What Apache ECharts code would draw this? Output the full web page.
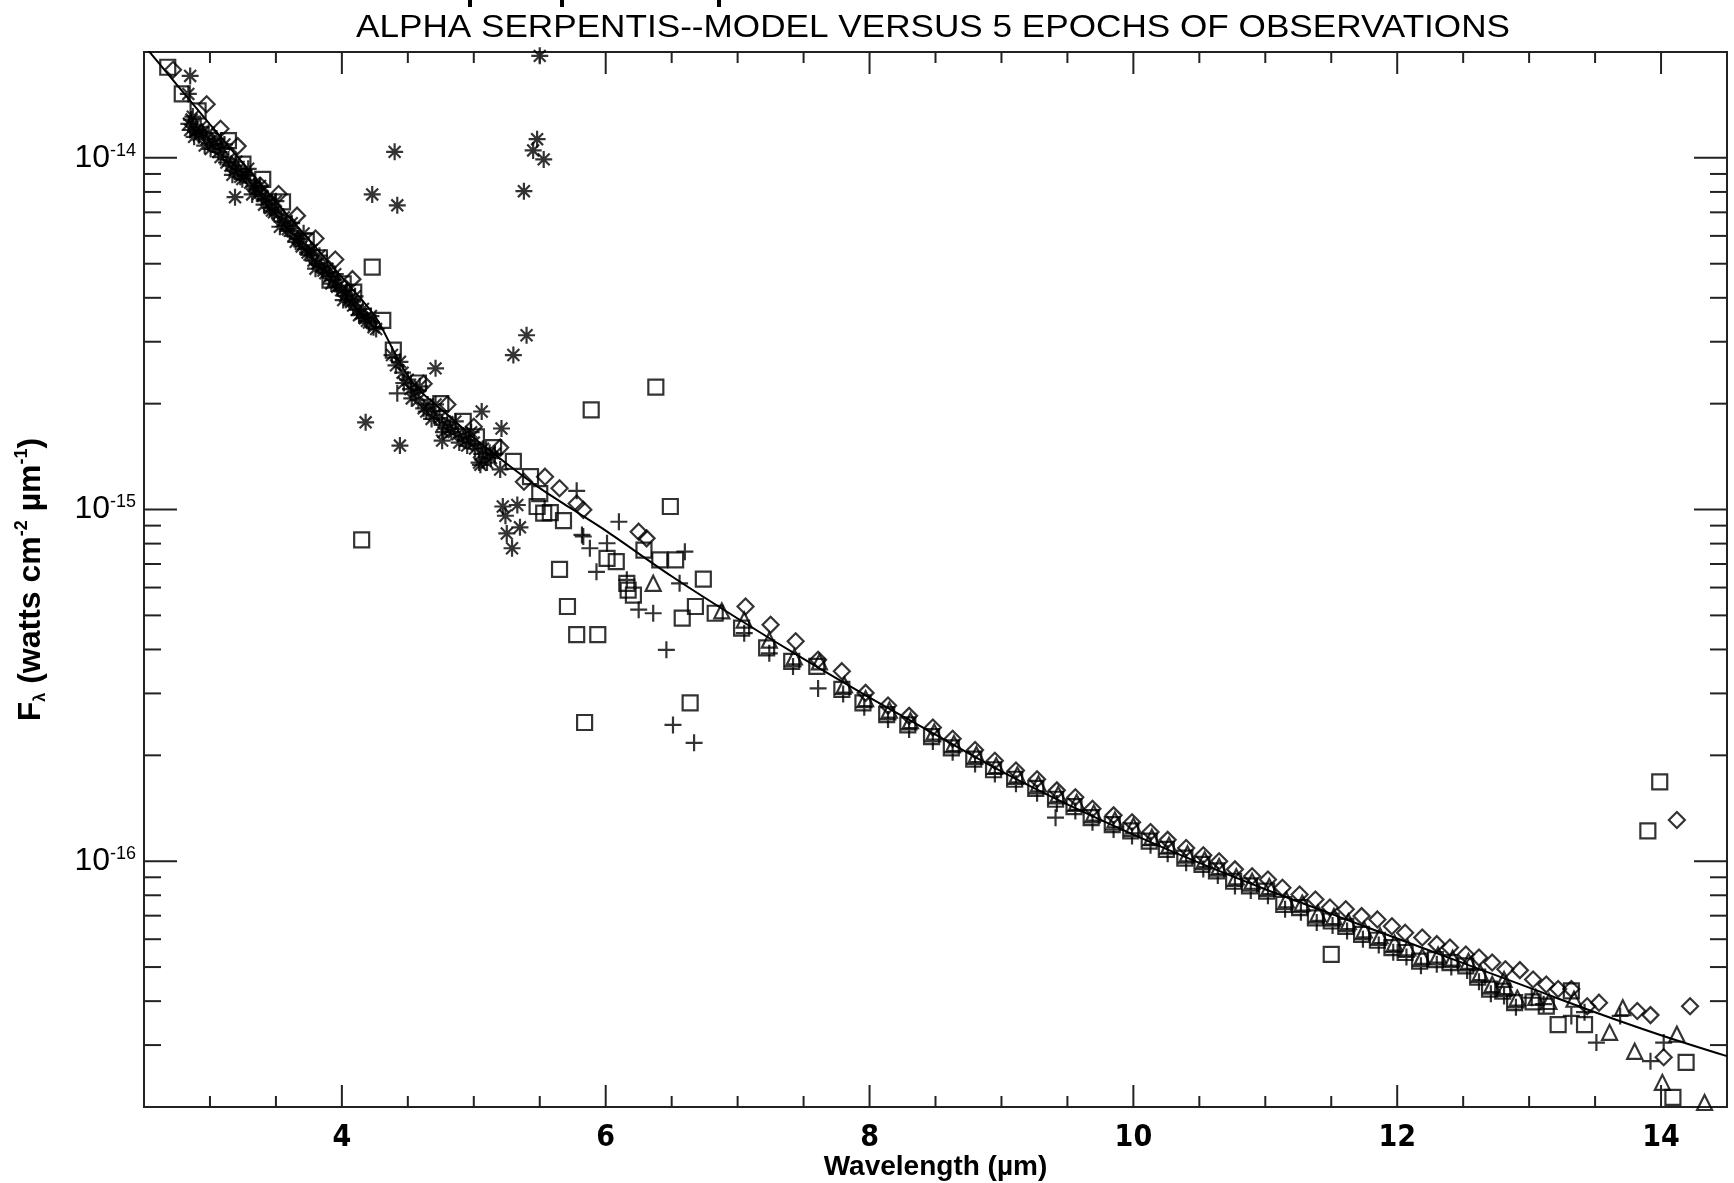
<!DOCTYPE html>
<html>
<head>
<meta charset="utf-8">
<script src="https://cdn.jsdelivr.net/npm/echarts@6/dist/echarts.min.js"></script>
<style>
  html, body { margin: 0; padding: 0; background: #fff; }
  #main { width: 1734px; height: 1183px; }
</style>
</head>
<body>
<div id="main"></div>
<script>
// 模型曲线 (波长 µm, 流量 watts cm^-2 µm^-1)
const modelWave = [2.5, 3.0, 3.5, 4.0, 4.25, 4.4, 4.5, 4.6, 4.75, 5.0, 5.25, 5.5, 5.75, 6.0, 6.5, 7.0, 7.5, 8.0,
  8.5, 9.0, 9.5, 10.0, 10.5, 11.0, 11.5, 12.0, 12.5, 13.0, 13.5, 14.0, 14.5]
const modelFlux = [2.09e-14, 1.245e-14, 7.50e-15, 4.57e-15, 3.55e-15, 2.79e-15, 2.40e-15, 2.16e-15, 1.93e-15,
  1.60e-15, 1.35e-15, 1.15e-15, 1.00e-15, 8.71e-16, 6.46e-16, 4.90e-16, 3.76e-16, 2.92e-16, 2.29e-16, 1.80e-16,
  1.45e-16, 1.19e-16, 9.89e-17, 8.32e-17, 7.08e-17, 6.03e-17, 5.13e-17, 4.37e-17, 3.72e-17, 3.20e-17, 2.79e-17]

// 观测 1: 星号
const asterisks = [
  [2.84, 1.25e-14], [2.86, 1.285e-14], [2.88, 1.148e-14], [2.90, 1.205e-14], [2.93, 1.225e-14], [2.96, 1.084e-14],
  [2.99, 1.178e-14], [3.02, 1.092e-14], [3.05, 1.135e-14], [3.08, 1.005e-14], [3.11, 1.092e-14], [3.14, 9.89e-15],
  [3.17, 8.95e-15], [3.20, 9.75e-15], [3.23, 8.83e-15], [3.26, 8.97e-15], [3.29, 9.31e-15], [3.32, 7.87e-15],
  [3.35, 8.18e-15], [3.38, 8.32e-15], [3.41, 7.36e-15], [3.44, 7.64e-15], [3.47, 7.08e-15], [3.50, 7.53e-15],
  [3.53, 6.37e-15], [3.56, 6.78e-15], [3.59, 6.27e-15], [3.62, 6.52e-15], [3.65, 5.77e-15], [3.68, 5.86e-15],
  [3.71, 6.10e-15], [3.74, 5.38e-15], [3.77, 5.47e-15], [3.80, 4.84e-15], [3.83, 5.27e-15], [3.86, 4.78e-15],
  [3.89, 4.84e-15], [3.92, 4.39e-15], [3.95, 4.67e-15], [3.98, 4.33e-15], [4.01, 3.94e-15], [4.04, 4.20e-15],
  [4.07, 3.89e-15], [4.10, 4.04e-15], [4.13, 3.57e-15], [4.16, 3.72e-15], [4.19, 3.44e-15], [4.22, 3.55e-15],
  [4.26, 3.26e-15], [4.38, 2.75e-15], [4.41, 2.57e-15], [4.44, 2.63e-15], [4.47, 2.29e-15], [4.50, 2.34e-15],
  [4.53, 2.07e-15], [4.56, 2.15e-15], [4.59, 2.24e-15], [4.62, 1.94e-15], [4.65, 1.99e-15], [4.68, 1.81e-15],
  [4.71, 1.99e-15], [4.74, 1.82e-15], [4.77, 1.66e-15], [4.80, 1.77e-15], [4.83, 1.66e-15], [4.86, 1.78e-15],
  [4.89, 1.55e-15], [4.92, 1.62e-15], [4.95, 1.52e-15], [4.98, 1.66e-15], [5.01, 1.49e-15], [5.04, 1.36e-15],
  [5.07, 1.49e-15], [5.10, 1.36e-15], [5.13, 1.40e-15], [5.16, 1.44e-15], [5.20, 1.30e-15],
  [2.85, 1.20e-14], [2.87, 1.31e-14], [2.89, 1.19e-14], [2.915, 1.16e-14], [2.945, 1.18e-14], [2.975, 1.13e-14],
  [3.005, 1.06e-14], [3.035, 1.10e-14], [3.065, 1.04e-14], [3.095, 1.06e-14], [3.125, 9.7e-15], [3.155, 9.5e-15],
  [3.185, 9.2e-15], [3.215, 9.3e-15], [3.245, 8.7e-15], [3.275, 8.9e-15], [3.305, 8.5e-15], [3.335, 8.3e-15],
  [3.365, 7.9e-15], [3.395, 7.8e-15], [3.425, 7.6e-15], [3.455, 7.2e-15], [3.485, 7.0e-15], [3.515, 6.9e-15],
  [3.545, 6.6e-15], [3.575, 6.4e-15], [3.605, 6.2e-15], [3.635, 6.0e-15], [3.665, 5.9e-15], [3.695, 5.6e-15],
  [3.725, 5.5e-15], [3.755, 5.3e-15], [3.785, 5.1e-15], [3.815, 5.0e-15], [3.845, 4.9e-15], [3.875, 4.7e-15],
  [3.905, 4.6e-15], [3.935, 4.5e-15], [3.965, 4.3e-15], [3.995, 4.2e-15], [4.025, 4.05e-15], [4.055, 3.95e-15],
  [4.085, 3.8e-15], [4.115, 3.7e-15], [4.145, 3.6e-15], [4.175, 3.5e-15], [4.205, 3.4e-15], [4.24, 3.3e-15],
  [4.46, 2.45e-15], [4.52, 2.2e-15], [4.58, 2.05e-15], [4.64, 1.90e-15], [4.70, 1.86e-15], [4.76, 1.74e-15],
  [4.82, 1.70e-15], [4.88, 1.64e-15], [4.94, 1.57e-15], [5.00, 1.55e-15], [5.06, 1.44e-15], [5.12, 1.45e-15],
  [2.85, 1.71e-14], [2.836, 1.52e-14], [3.19, 7.73e-15], [4.40, 1.04e-14], [4.23, 7.87e-15], [4.42, 7.33e-15],
  [5.48, 1.13e-14], [5.45, 1.05e-14], [5.53, 9.9e-15], [5.38, 8.04e-15], [5.50, 1.95e-14], [5.40, 3.13e-15],
  [5.30, 2.75e-15], [4.71, 2.52e-15], [4.18, 1.77e-15], [4.44, 1.52e-15], [5.06, 1.90e-15], [5.21, 1.70e-15],
  [4.76, 1.57e-15], [5.05, 1.34e-15], [5.22, 1.02e-15], [5.33, 1.03e-15], [5.24, 9.6e-16], [5.35, 8.9e-16],
  [5.25, 8.55e-16], [5.29, 7.76e-16]
]

// 观测 2: 方块
const squares = [
  [2.68, 1.81e-14], [2.79, 1.52e-14], [2.91, 1.36e-14], [3.14, 1.12e-14], [3.25, 9.6e-15], [3.40, 8.69e-15],
  [3.55, 7.50e-15], [3.73, 5.8e-15], [3.83, 5.2e-15], [3.91, 4.49e-15], [4.01, 4.38e-15], [4.09, 4.15e-15],
  [4.31, 3.45e-15], [4.39, 2.84e-15], [4.23, 4.89e-15], [4.15, 8.2e-16],
  [4.58, 2.29e-15], [4.75, 2.0e-15], [4.92, 1.78e-15], [5.02, 1.61e-15], [5.15, 1.50e-15], [5.30, 1.37e-15],
  [5.43, 1.24e-15], [5.50, 1.11e-15], [5.58, 9.8e-16], [5.68, 9.3e-16], [5.48, 1.02e-15], [5.53, 9.77e-16],
  [6.38, 2.23e-15], [5.89, 1.92e-15], [6.49, 1.02e-15], [5.65, 6.76e-16], [5.71, 5.30e-16], [5.78, 4.41e-16],
  [5.94, 4.41e-16], [5.84, 2.48e-16], [6.64, 2.82e-16], [6.74, 6.34e-16], [6.58, 4.91e-16], [6.68, 5.30e-16],
  [6.83, 5.07e-16], [7.03, 4.60e-16], [7.22, 4.04e-16], [6.01, 7.26e-16], [6.08, 7.11e-16], [6.29, 7.67e-16],
  [6.41, 7.19e-16], [6.53, 7.19e-16], [6.17, 5.90e-16], [6.21, 5.71e-16], [6.16, 6.17e-16],
  [7.41, 3.70e-16], [7.60, 3.58e-16], [7.79, 3.08e-16], [7.95, 2.82e-16], [8.13, 2.61e-16], [8.29, 2.44e-16],
  [8.47, 2.26e-16], [8.62, 2.10e-16], [8.79, 1.95e-16], [8.94, 1.82e-16], [9.10, 1.71e-16], [9.26, 1.61e-16],
  [9.41, 1.50e-16], [9.55, 1.43e-16], [9.68, 1.33e-16], [9.84, 1.27e-16], [9.98, 1.22e-16], [10.12, 1.14e-16],
  [10.25, 1.08e-16], [10.39, 1.02e-16], [10.52, 9.79e-17], [10.63, 9.38e-17], [10.76, 8.77e-17], [10.88, 8.51e-17],
  [11.01, 8.22e-17], [11.14, 7.53e-17], [11.26, 7.38e-17], [11.38, 6.90e-17], [11.50, 6.76e-17], [11.61, 6.53e-17],
  [11.73, 6.19e-17], [11.85, 5.96e-17], [11.96, 5.68e-17], [12.06, 5.50e-17], [12.17, 5.20e-17], [12.29, 5.25e-17],
  [12.40, 5.15e-17], [12.52, 5.04e-17], [12.61, 4.68e-17], [12.70, 4.33e-17], [12.80, 4.27e-17], [12.89, 3.96e-17],
  [13.03, 3.98e-17], [13.13, 3.87e-17], [13.22, 3.43e-17], [13.32, 4.28e-17], [13.42, 3.43e-17],
  [11.50, 5.43e-17], [13.99, 1.68e-16], [13.90, 1.22e-16], [14.19, 2.68e-17], [14.09, 2.13e-17]
]

// 观测 3: 菱形
const diamonds = [
  [2.72, 1.78e-14], [2.975, 1.42e-14], [3.08, 1.21e-14], [3.21, 1.08e-14], [3.38, 8.34e-15], [3.52, 7.89e-15],
  [3.66, 6.85e-15], [3.80, 5.90e-15], [3.95, 5.14e-15], [4.08, 4.52e-15], [4.62, 2.28e-15], [4.80, 1.99e-15],
  [5.00, 1.72e-15], [5.20, 1.50e-15], [5.38, 1.20e-15], [5.54, 1.24e-15], [5.65, 1.15e-15], [5.78, 1.04e-15],
  [5.83, 9.98e-16], [6.25, 8.65e-16], [6.31, 8.28e-16], [7.06, 5.30e-16], [7.25, 4.70e-16], [7.44, 4.22e-16],
  [7.61, 3.74e-16], [7.79, 3.47e-16], [7.97, 3.01e-16], [8.14, 2.77e-16], [8.30, 2.59e-16], [8.48, 2.40e-16],
  [8.63, 2.23e-16], [8.80, 2.07e-16], [8.95, 1.93e-16], [9.11, 1.81e-16], [9.27, 1.71e-16], [9.42, 1.59e-16],
  [9.56, 1.52e-16], [9.69, 1.41e-16], [9.85, 1.35e-16], [9.99, 1.29e-16], [10.13, 1.21e-16], [10.26, 1.15e-16],
  [10.40, 1.09e-16], [10.53, 1.04e-16], [10.65, 1.00e-16], [10.77, 9.48e-17], [10.90, 9.06e-17], [11.02, 8.87e-17],
  [11.13, 8.40e-17], [11.26, 8.04e-17], [11.38, 7.78e-17], [11.49, 7.38e-17], [11.61, 7.30e-17], [11.73, 6.98e-17],
  [11.85, 6.83e-17], [11.96, 6.53e-17], [12.06, 6.26e-17], [12.19, 6.07e-17], [12.30, 5.81e-17], [12.40, 5.68e-17],
  [12.52, 5.43e-17], [12.62, 5.32e-17], [12.72, 5.15e-17], [12.82, 4.93e-17], [12.93, 4.90e-17], [13.03, 4.61e-17],
  [13.13, 4.46e-17], [13.22, 4.33e-17], [13.32, 4.33e-17], [13.44, 3.87e-17], [13.53, 3.96e-17], [13.82, 3.75e-17],
  [13.92, 3.65e-17], [14.02, 2.77e-17], [14.12, 1.31e-16], [14.22, 3.87e-17]
]

// 观测 4: 加号
const pluses = [
  [4.42, 2.14e-15], [5.78, 1.13e-15], [5.83, 8.38e-16], [6.10, 9.23e-16], [5.82, 8.47e-16], [5.88, 7.76e-16],
  [6.01, 8.02e-16], [5.93, 6.65e-16], [6.60, 7.59e-16], [6.16, 6.31e-16], [6.25, 5.19e-16], [6.36, 5.07e-16],
  [6.46, 3.99e-16], [6.51, 2.44e-16], [6.67, 2.17e-16], [6.56, 6.17e-16], [7.05, 4.45e-16], [7.24, 3.90e-16],
  [7.42, 3.58e-16], [7.61, 3.10e-16], [7.80, 2.99e-16], [7.96, 2.74e-16], [8.14, 2.53e-16], [8.30, 2.37e-16],
  [8.48, 2.19e-16], [8.63, 2.04e-16], [8.80, 1.89e-16], [8.95, 1.77e-16], [9.11, 1.66e-16], [9.27, 1.56e-16],
  [9.41, 1.33e-16], [9.42, 1.46e-16], [9.56, 1.39e-16], [9.69, 1.29e-16], [9.85, 1.23e-16], [9.99, 1.18e-16],
  [10.13, 1.11e-16], [10.26, 1.05e-16], [10.40, 9.9e-17], [10.53, 9.5e-17], [10.64, 9.1e-17], [10.77, 8.5e-17],
  [10.89, 8.25e-17], [11.02, 7.97e-17], [11.15, 7.3e-17], [11.27, 7.16e-17], [11.39, 6.69e-17], [11.51, 6.56e-17],
  [11.62, 6.33e-17], [11.74, 6.0e-17], [11.86, 5.78e-17], [11.97, 5.51e-17], [12.07, 5.34e-17], [12.18, 5.04e-17],
  [12.30, 5.09e-17], [12.41, 5.0e-17], [12.53, 4.89e-17], [12.62, 4.54e-17], [12.71, 4.2e-17], [12.81, 4.14e-17],
  [12.90, 3.84e-17], [13.02, 4.09e-17], [13.11, 3.92e-17], [13.32, 3.63e-17], [13.42, 3.72e-17], [13.51, 3.05e-17],
  [13.69, 3.63e-17], [13.92, 2.70e-17], [14.02, 3.05e-17]
]

// 观测 5: 三角形
const triangles = [
  [6.36, 6.17e-16], [6.88, 5.15e-16], [7.05, 4.85e-16], [7.24, 4.25e-16], [7.43, 3.81e-16], [7.62, 3.69e-16],
  [7.81, 3.17e-16], [7.97, 2.90e-16], [8.15, 2.69e-16], [8.31, 2.51e-16], [8.49, 2.33e-16], [8.64, 2.16e-16],
  [8.81, 2.01e-16], [8.96, 1.87e-16], [9.12, 1.76e-16], [9.28, 1.66e-16], [9.43, 1.55e-16], [9.57, 1.47e-16],
  [9.70, 1.37e-16], [9.86, 1.31e-16], [10.00, 1.26e-16], [10.14, 1.17e-16], [10.27, 1.11e-16], [10.41, 1.05e-16],
  [10.54, 1.01e-16], [10.65, 9.66e-17], [10.78, 9.03e-17], [10.90, 8.77e-17], [11.03, 8.47e-17], [11.16, 7.76e-17],
  [11.28, 7.60e-17], [11.40, 7.11e-17], [11.52, 6.96e-17], [11.63, 6.73e-17], [11.75, 6.38e-17], [11.87, 6.14e-17],
  [11.98, 5.85e-17], [12.08, 5.67e-17], [12.19, 5.36e-17], [12.31, 5.41e-17], [12.42, 5.30e-17], [12.54, 5.19e-17],
  [12.63, 4.82e-17], [12.72, 4.46e-17], [12.82, 4.40e-17], [12.91, 4.08e-17], [13.05, 4.10e-17], [13.15, 3.99e-17],
  [13.34, 4.05e-17], [12.81, 4.61e-17], [13.71, 3.83e-17], [13.61, 3.26e-17], [13.80, 2.88e-17], [14.12, 3.22e-17],
  [14.01, 2.35e-17], [14.33, 2.06e-17]
]

// 坐标轴刻度
const xLabels = [4, 6, 8, 10, 12, 14]
const xMinorTicks = [3, 3.5, 4.5, 5, 5.5, 6.5, 7, 7.5, 8.5, 9, 9.5, 10.5, 11, 11.5, 12.5, 13, 13.5]
const yLabels = [1e-16, 1e-15, 1e-14]
const yMinorTicks = [3e-17, 4e-17, 5e-17, 6e-17, 7e-17, 8e-17, 9e-17, 2e-16, 3e-16, 4e-16, 5e-16, 6e-16, 7e-16,
  8e-16, 9e-16, 2e-15, 3e-15, 4e-15, 5e-15, 6e-15, 7e-15, 8e-15, 9e-15]

const X_MIN = 2.5, X_MAX = 14.5, Y_MIN = 2e-17, Y_MAX = 2e-14
const titleText = 'ALPHA SERPENTIS--MODEL VERSUS 5 EPOCHS OF OBSERVATIONS'
const narrow = '"Liberation Sans Narrow", "DejaVu Sans Condensed", "Liberation Sans", sans-serif'
const sans = '"Liberation Sans", sans-serif'

// 标题按参考图宽度拉伸
const ctx = document.createElement('canvas').getContext('2d')
ctx.font = '31px "Liberation Sans"'
const titleScale = 1154 / ctx.measureText(titleText).width

// 刻度数据: [x, y, 类型] 0 x主刻度 1 x次刻度 2 y主刻度 3 y次刻度
let tickData = []
xLabels.forEach((v) => tickData.push([v, Y_MIN, 0]))
xMinorTicks.forEach((v) => tickData.push([v, Y_MIN, 1]))
yLabels.forEach((v) => tickData.push([X_MIN, v, 2]))
yMinorTicks.forEach((v) => tickData.push([X_MIN, v, 3]))

function renderTick(params, api) {
  let kind = api.value(2)
  let cs = params.coordSys
  let p = api.coord([api.value(0), api.value(1)])
  let style = { stroke: '#222', lineWidth: 2 }
  let a, b
  if (kind < 2) {
    let len = kind === 0 ? 22 : 11
    let top = cs.y, bottom = cs.y + cs.height
    a = { x1: p[0], y1: bottom, x2: p[0], y2: bottom - len }
    b = { x1: p[0], y1: top, x2: p[0], y2: top + len }
  } else {
    let len = kind === 2 ? 33 : 17
    let left = cs.x, right = cs.x + cs.width
    a = { x1: left, y1: p[1], x2: left + len, y2: p[1] }
    b = { x1: right, y1: p[1], x2: right - len, y2: p[1] }
  }
  return {
    type: 'group',
    children: [
      { type: 'line', shape: a, style },
      { type: 'line', shape: b, style },
    ],
  }
}

function markers(name, data, symbol, size) {
  return {
    name,
    type: 'scatter',
    data,
    symbol,
    symbolSize: size,
    itemStyle: { color: 'rgba(0,0,0,0)', borderColor: '#000', borderWidth: 2.2 },
    silent: true,
    z: 3,
  }
}

var myChart = echarts.init(document.getElementById('main'))
var option = {
  animation: false,
  backgroundColor: '#fff',
  grid: {
    left: 144, top: 52, right: 7, bottom: 76,
    outerBoundsMode: 'none',
    show: true, borderColor: '#222', borderWidth: 2,
  },
  graphic: [
    {
      type: 'text', x: 933, y: 28, scaleX: titleScale,
      style: { text: titleText, font: '31px "Liberation Sans"', fill: '#000', align: 'center', verticalAlign: 'middle' },
    },
    { type: 'rect', shape: { x: 468, y: 0, width: 4, height: 7 }, style: { fill: '#000' } },
    { type: 'rect', shape: { x: 560, y: 0, width: 4, height: 7 }, style: { fill: '#000' } },
    { type: 'rect', shape: { x: 717, y: 0, width: 4, height: 7 }, style: { fill: '#000' } },
  ],
  xAxis: {
    type: 'value',
    min: X_MIN,
    max: X_MAX,
    axisLine: { show: false },
    axisTick: { show: false },
    splitLine: { show: false },
    axisLabel: {
      customValues: xLabels,
      margin: 16,
      color: '#000',
      fontSize: 30,
      fontWeight: 'bold',
      fontFamily: narrow,
    },
    name: 'Wavelength (µm)',
    nameLocation: 'middle',
    nameGap: 46,
    nameMoveOverlap: false,
    nameTextStyle: { color: '#000', fontSize: 28, fontWeight: 'bold', fontFamily: sans },
  },
  yAxis: {
    type: 'log',
    logBase: 10,
    min: Y_MIN,
    max: Y_MAX,
    splitNumber: 3,
    axisLine: { show: false },
    axisTick: { show: false },
    splitLine: { show: false },
    axisLabel: {
      margin: 8,
      formatter: function (v) {
        let e = Math.log10(v)
        let r = Math.round(e)
        if (Math.abs(e - r) > 1e-6) return ''
        return '{b|10}{s|' + r + '}'
      },
      rich: {
        b: { fontSize: 32, color: '#000', fontFamily: sans, lineHeight: 32 },
        s: { fontSize: 18, color: '#000', fontFamily: sans, verticalAlign: 'top', lineHeight: 32 },
      },
    },
    name: '{m|F}{sub|λ}{m| (watts cm}{sup|-2}{m| µm}{sup|-1}{m|)}',
    nameLocation: 'middle',
    nameRotate: 90,
    nameGap: 95,
    nameMoveOverlap: false,
    nameTextStyle: {
      rich: {
        m: { fontSize: 32, fontWeight: 'bold', color: '#000', fontFamily: sans, lineHeight: 36 },
        sub: { fontSize: 16, fontWeight: 'bold', color: '#000', fontFamily: sans, verticalAlign: 'bottom', lineHeight: 36 },
        sup: { fontSize: 18, fontWeight: 'bold', color: '#000', fontFamily: sans, verticalAlign: 'top', lineHeight: 36 },
      },
    },
  },
  series: [
    markers('epoch1', asterisks, 'path://M5,0L5,10M0,5L10,5M1.5,1.5L8.5,8.5M1.5,8.5L8.5,1.5', 17),
    markers('epoch2', squares, 'rect', 15),
    markers('epoch3', diamonds, 'diamond', 16),
    markers('epoch4', pluses, 'path://M5,0L5,10M0,5L10,5', 17),
    markers('epoch5', triangles, 'triangle', 15),
    {
      name: 'model',
      type: 'line',
      data: modelWave.map((w, i) => [w, modelFlux[i]]),
      symbol: 'none',
      smooth: 0.3,
      lineStyle: { color: '#000', width: 2 },
      silent: true,
      z: 4,
    },
    {
      type: 'custom',
      data: tickData,
      encode: { x: 0, y: 1 },
      renderItem: renderTick,
      silent: true,
      clip: false,
      z: 5,
    },
  ],
}
myChart.setOption(option)
</script>
</body>
</html>
